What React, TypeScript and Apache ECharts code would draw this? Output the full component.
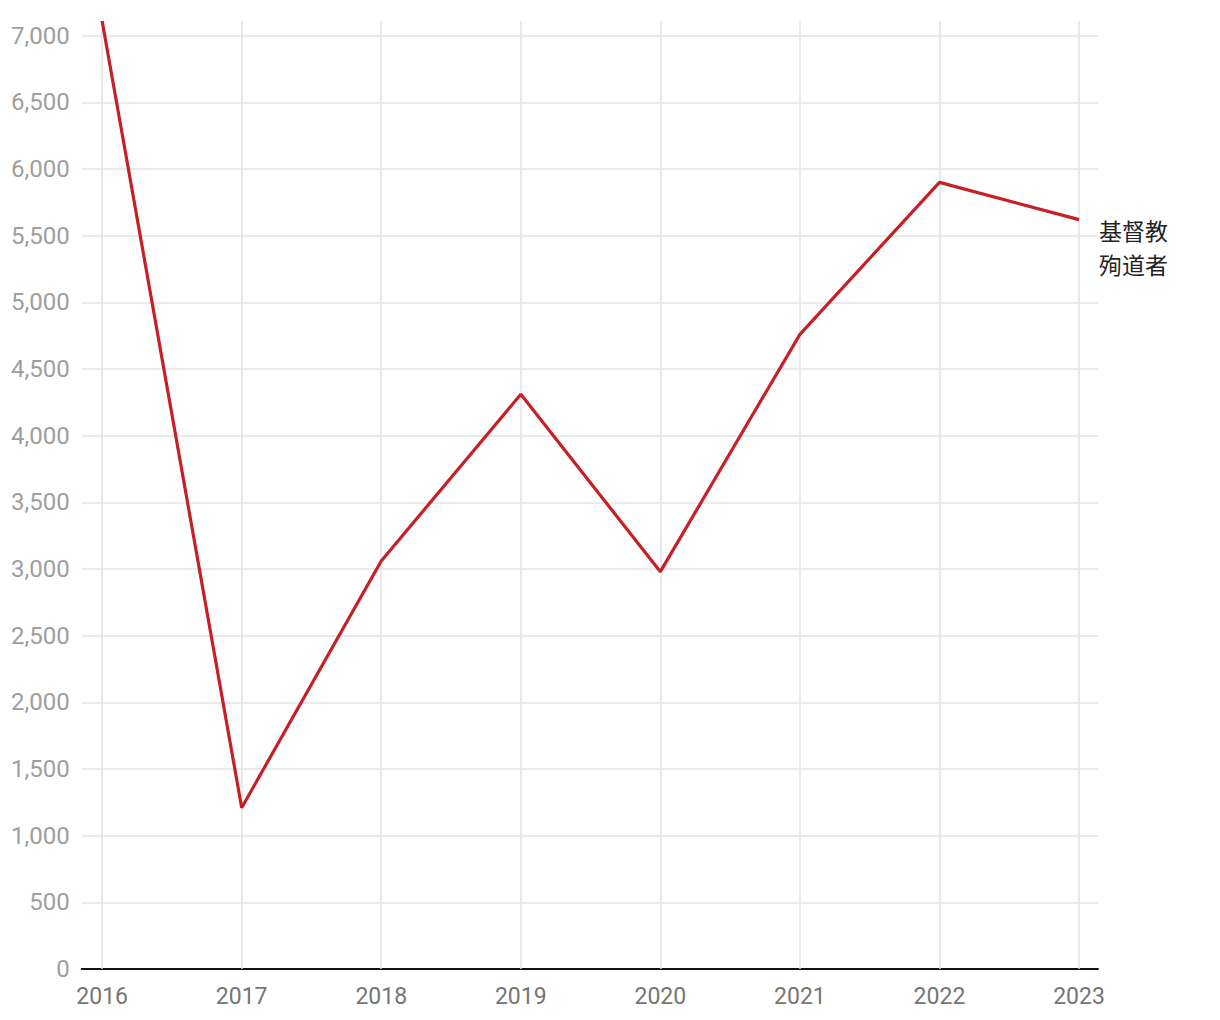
import React, { useEffect, useRef } from "react";
import * as echarts from "echarts";

const years = [2016, 2017, 2018, 2019, 2020, 2021, 2022, 2023];
const values = [7110, 1210, 3060, 4310, 2980, 4760, 5900, 5620];
const seriesName = "基督教\n殉道者";
const yMax = 7110;

export default function App() {
  const ref = useRef<HTMLDivElement>(null);
  useEffect(() => {
    const chart = echarts.init(ref.current!, undefined, { renderer: "svg" });
    chart.setOption({
      animation: false,
      textStyle: { fontFamily: "Roboto" },
      grid: { left: 72, right: 114, top: 13, bottom: 51, containLabel: false },
      xAxis: {
        type: "value",
        min: 2016 - 20.5 / 139.857,
        max: 2023 + 19 / 139.857,
        axisLine: { show: true, onZero: false, lineStyle: { color: "#111", width: 2 } },
        axisTick: { show: false },
        splitLine: { show: false },
        axisLabel: {
          customValues: years,
          formatter: (v: number) => String(v),
          color: "#757575",
          fontSize: 23,
          margin: 16,
          fontFamily: "Roboto",
        },
      },
      yAxis: {
        type: "value",
        min: 0,
        max: yMax,
        interval: 500,
        axisLine: { show: false },
        axisTick: { show: false },
        splitLine: { show: true, showMaxLine: false, lineStyle: { color: "#e3e3e3", width: 1.5 } },
        axisLabel: {
          color: "#9e9e9e",
          fontSize: 24,
          margin: 12,
          fontFamily: "Roboto",
          showMaxLabel: false,
          formatter: (v: number) => (v > 7000 ? "" : v.toLocaleString("en-US")),
        },
      },
      series: [
        {
          name: seriesName,
          type: "line",
          data: years.map((y, i) => [y, values[i]]),
          symbol: "none",
          lineStyle: { color: "#c62026", width: 3.2 },
          itemStyle: { color: "#c62026" },
          endLabel: {
            show: true,
            formatter: seriesName,
            color: "#222",
            fontSize: 23,
            lineHeight: 34,
            distance: 20,
            offset: [0, 27],
            fontFamily: "Noto Sans CJK SC",
          },
          markLine: {
            silent: true,
            symbol: "none",
            label: { show: false },
            lineStyle: { color: "#e3e3e3", width: 1.5, type: "solid" },
            z: 1,
            data: years.map((y) => ({ xAxis: y })),
          },
        },
      ],
    });
    return () => chart.dispose();
  }, []);
  return <div ref={ref} style={{ width: 1204, height: 1012 }} />;
}
